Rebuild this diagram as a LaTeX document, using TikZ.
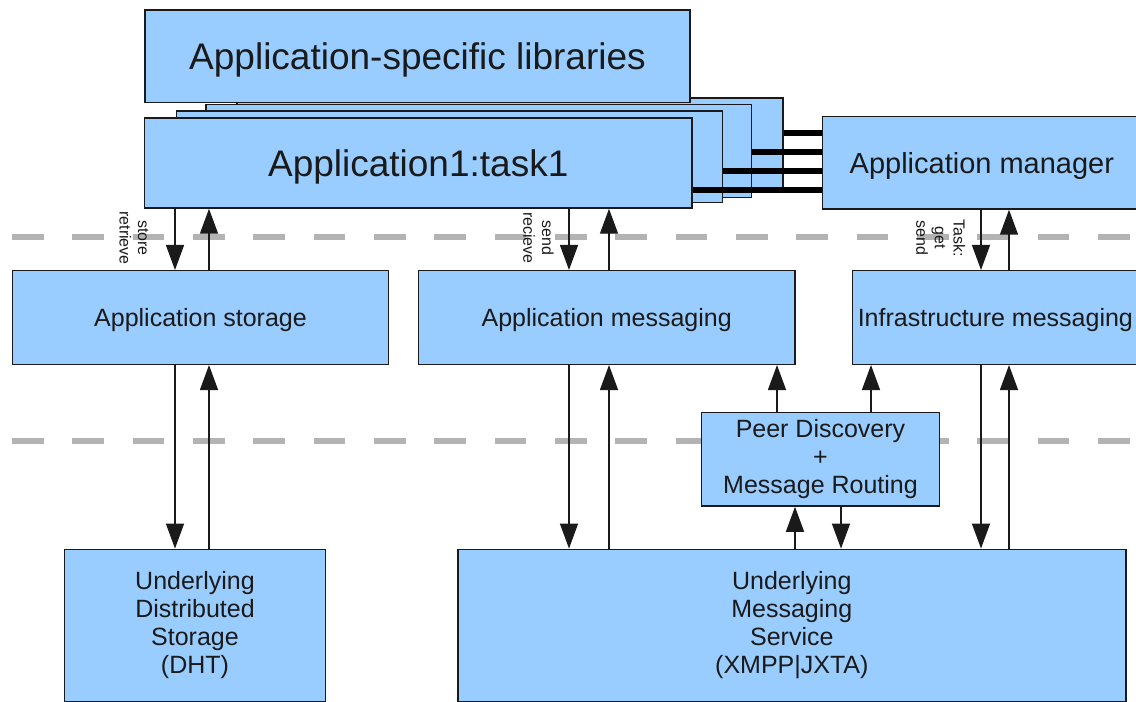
\documentclass[tikz,border=0pt]{standalone}
\usepackage{fontspec}
\setmainfont{Liberation Sans}
\usetikzlibrary{arrows.meta}
\definecolor{boxblue}{HTML}{99CCFF}
\definecolor{edge}{HTML}{1A1A1A}
\definecolor{dashgray}{HTML}{B3B3B3}
\begin{document}
\begin{tikzpicture}[x=0.75pt,y=-0.75pt,
  box/.style={draw=edge, fill=boxblue, line width=1.1pt, inner sep=0pt, align=center, text=edge, font=\fontsize{18.75}{21}\selectfont},
  one/.style={text depth=0pt},
  big/.style={font=\fontsize{27.75}{33}\selectfont},
  mid/.style={font=\fontsize{21.75}{26}\selectfont},
  arr/.style={draw=edge, line width=1.1pt, -{Triangle[length=18.75pt,width=13.5pt]}},
  link/.style={draw=black, line width=4.4pt},
  dashline/.style={draw=dashgray, line width=4.3pt, dash pattern=on 23.8pt off 21.45pt},
  lbl/.style={rotate=-90, align=center, font=\fontsize{12}{14}\selectfont, inner sep=0pt, text=edge}]
\path[use as bounding box] (0,0) rectangle (1136,701);
\clip (0,0) rectangle (1136,701);
% layer separators
\draw[dashline] (12,237.3) -- (1140,237.3);
\draw[dashline] (12,440.7) -- (1140,440.7);
% task stack
\node[box, minimum width=409.5pt, minimum height=69pt] (t4) at (510,144) {};
\node[box, minimum width=409.2pt, minimum height=69.75pt] (t3) at (478.8,151) {};
\node[box, minimum width=409.5pt, minimum height=68.6pt] (t2) at (449.6,156.75) {};
\node[box, big, one, minimum width=410.6pt, minimum height=67.5pt] (t1) at (418.25,163) {Application1:task1};
\node[box, big, one, minimum width=408.75pt, minimum height=69.4pt] (lib) at (417.5,56.25) {Application-specific libraries};
\node[box, mid, one, minimum width=238.7pt, minimum height=69.2pt] (mgr) at (981.85,162.85) {Application manager};
% links to manager
\coordinate (ya) at (0,133);
\coordinate (yb) at (0,152);
\coordinate (yc) at (0,171);
\coordinate (yd) at (0,190);
\draw[link] (t4.east |- ya) -- (mgr.west |- ya);
\draw[link] (t3.east |- yb) -- (mgr.west |- yb);
\draw[link] (t2.east |- yc) -- (mgr.west |- yc);
\draw[link] (t1.east |- yd) -- (mgr.west |- yd);
% middle layer
\node[box, one, minimum width=282.3pt, minimum height=70.2pt] (stor) at (200.5,317.5) {Application storage};
\node[box, one, minimum width=282.5pt, minimum height=70.2pt] (amsg) at (606.65,317.5) {Application messaging};
\node[box, one, minimum width=214pt, minimum height=70.2pt] (infra) at (995.35,317.5) {Infrastructure messaging};
\node[box, minimum width=178.2pt, minimum height=70pt] (peer) at (820.5,459.35) {Peer Discovery\\+\\Message Routing};
% bottom layer
\node[box, minimum width=196pt, minimum height=114.3pt] (dht) at (195,625.5) {Underlying\\Distributed\\Storage\\(DHT)};
\node[box, minimum width=501pt, minimum height=114.3pt] (msg) at (791.8,625.5) {Underlying\\Messaging\\Service\\(XMPP|JXTA)};
% arrow columns
\coordinate (xa) at (175,0);
\coordinate (xb) at (209,0);
\coordinate (xc) at (569,0);
\coordinate (xd) at (609,0);
\coordinate (xe) at (777,0);
\coordinate (xf) at (871,0);
\coordinate (xg) at (795,0);
\coordinate (xh) at (841,0);
\coordinate (xi) at (981,0);
\coordinate (xj) at (1009,0);
\draw[arr] (t1.south -| xa) -- (stor.north -| xa);
\draw[arr] (stor.north -| xb) -- (t1.south -| xb);
\draw[arr] (t1.south -| xc) -- (amsg.north -| xc);
\draw[arr] (amsg.north -| xd) -- (t1.south -| xd);
\draw[arr] (mgr.south -| xi) -- (infra.north -| xi);
\draw[arr] (infra.north -| xj) -- (mgr.south -| xj);
\draw[arr] (stor.south -| xa) -- (dht.north -| xa);
\draw[arr] (dht.north -| xb) -- (stor.south -| xb);
\draw[arr] (amsg.south -| xc) -- (msg.north -| xc);
\draw[arr] (msg.north -| xd) -- (amsg.south -| xd);
\draw[arr] (peer.north -| xe) -- (amsg.south -| xe);
\draw[arr] (peer.north -| xf) -- (infra.south -| xf);
\draw[arr] (msg.north -| xg) -- (peer.south -| xg);
\draw[arr] (peer.south -| xh) -- (msg.north -| xh);
\draw[arr] (infra.south -| xi) -- (msg.north -| xi);
\draw[arr] (msg.north -| xj) -- (infra.south -| xj);
% connector labels
\node[lbl] (lstor) at (134,238) {store\\retrieve};
\node[lbl] (lmsg) at (538.5,238) {send\\recieve};
\node[lbl] (ltask) at (940.7,238) {Task:\\get\\send};
\end{tikzpicture}
\end{document}
